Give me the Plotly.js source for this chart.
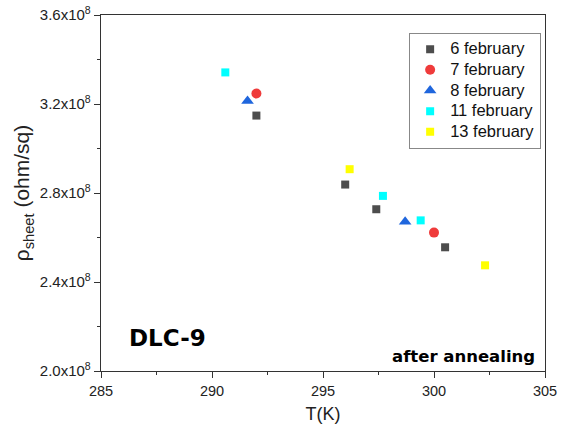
<!DOCTYPE html>
<html>
<head>
<meta charset="utf-8">
<script src="https://cdn.plot.ly/plotly-3.0.1.min.js"></script>
<style>html,body{margin:0;padding:0;background:#fff;}#chart{width:562px;height:431px;}</style>
</head>
<body>
<div id="chart"></div>
<script>
const seriesNames = ["6 february", "7 february", "8 february", "11 february", "13 february"];
const feb6T = [292.0, 296.0, 297.4, 300.5];
const feb6R = [3.148e8, 2.838e8, 2.727e8, 2.556e8];
const feb7T = [292.0, 300.0];
const feb7R = [3.247e8, 2.622e8];
const feb8T = [291.6, 298.7];
const feb8R = [3.213e8, 2.671e8];
const feb11T = [290.6, 297.7, 299.4];
const feb11R = [3.342e8, 2.787e8, 2.677e8];
const feb13T = [296.2, 302.3];
const feb13R = [2.907e8, 2.475e8];
const yTickVals = [2.0e8, 2.4e8, 2.8e8, 3.2e8, 3.6e8];
const yTickText = ["2.0x10<sup>8</sup>", "2.4x10<sup>8</sup>", "2.8x10<sup>8</sup>", "3.2x10<sup>8</sup>", "3.6x10<sup>8</sup>"];
const xTickVals = [285, 290, 295, 300, 305];

const styles = [
  {color: "#4d4d4d", symbol: "square", size: 8},
  {color: "#ef3b3b", symbol: "circle", size: 10},
  {color: "#1f66dd", symbol: "triangle-up", size: 11},
  {color: "#00ffff", symbol: "square", size: 8},
  {color: "#ffff00", symbol: "square", size: 8}
];
const xs = [feb6T, feb7T, feb8T, feb11T, feb13T];
const ys = [feb6R, feb7R, feb8R, feb11R, feb13R];

const data = seriesNames.map((n, i) => ({
  x: xs[i], y: ys[i], type: "scatter", mode: "markers",
  name: '<span style="font-size:16.5px">' + n + '</span>',
  marker: {color: styles[i].color, symbol: styles[i].symbol, size: styles[i].size, line: {width: 0}}
}));

const font = "Liberation Sans, Arial, sans-serif";
const layout = {
  width: 562, height: 431,
  margin: {l: 101, r: 17, t: 15, b: 60},
  paper_bgcolor: "#fff", plot_bgcolor: "#fff",
  showlegend: true,
  font: {family: font, size: 14, color: "#222"},
  legend: {
    x: 0.694, y: 0.95, xanchor: "left", yanchor: "top",
    bordercolor: "#888", borderwidth: 1, bgcolor: "#fff",
    font: {family: font, size: 13.6, color: "#111"},
    tracegroupgap: 0, itemwidth: 30
  },
  xaxis: {
    range: [285, 305], tickmode: "array", tickvals: xTickVals,
    ticks: "outside", ticklen: 6, tickwidth: 1, tickcolor: "#333",
    showline: true, linecolor: "#333", linewidth: 1.3, mirror: true,
    showgrid: false, zeroline: false,
    tickfont: {family: font, size: 14.5, color: "#222"},
    minor: {dtick: 2.5, tick0: 285, ticks: "outside", ticklen: 3, tickcolor: "#333", showgrid: false},
    title: {text: "T(K)", font: {family: font, size: 18, color: "#222"}, standoff: 9}
  },
  yaxis: {
    range: [2.0e8, 3.6e8], tickmode: "array", tickvals: yTickVals, ticktext: yTickText,
    ticks: "outside", ticklen: 6, tickwidth: 1, tickcolor: "#333",
    showline: true, linecolor: "#333", linewidth: 1.3, mirror: true,
    showgrid: false, zeroline: false,
    tickfont: {family: font, size: 15, color: "#222"},
    minor: {dtick: 0.2e8, tick0: 2.0e8, ticks: "outside", ticklen: 3, tickcolor: "#333", showgrid: false},
    title: {text: "ρ<sub>sheet</sub> (ohm/sq)", font: {family: font, size: 21, color: "#222"}, standoff: 4}
  },
  annotations: [
    {text: "<b>DLC-9</b>", xref: "paper", yref: "paper", x: 0.058, y: 0.093, xanchor: "left", yanchor: "middle",
     showarrow: false, font: {family: "DejaVu Sans, sans-serif", size: 23, color: "#000"}},
    {text: "<b>after annealing</b>", xref: "paper", yref: "paper", x: 0.982, y: 0.04, xanchor: "right", yanchor: "middle",
     showarrow: false, font: {family: "DejaVu Sans, sans-serif", size: 16.5, color: "#000"}}
  ]
};

Plotly.newPlot("chart", data, layout, {displayModeBar: false, staticPlot: true});
</script>
</body>
</html>
